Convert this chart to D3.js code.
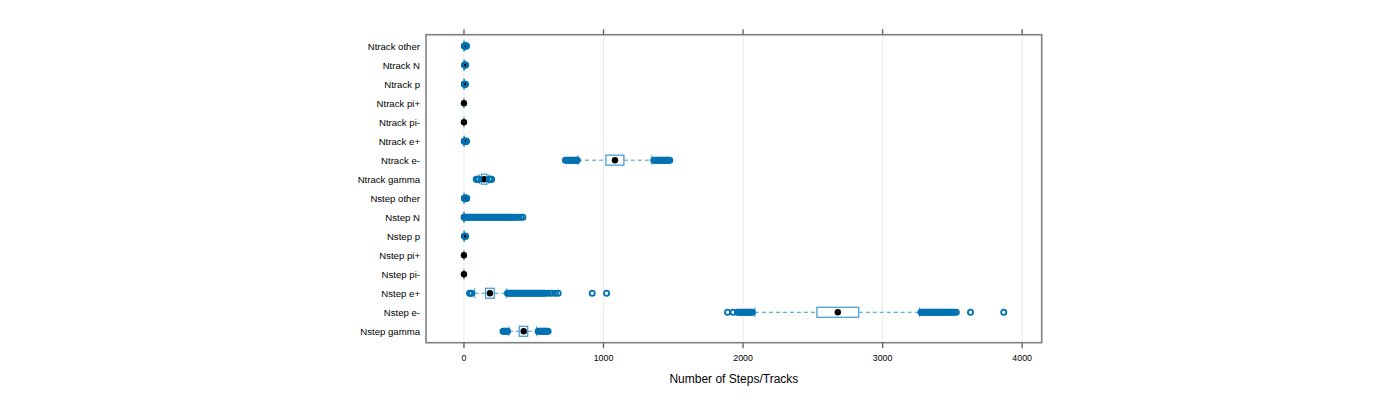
<!DOCTYPE html>
<html>
<head>
<meta charset="utf-8">
<script src="https://cdn.jsdelivr.net/npm/d3@7"></script>
<style>
  html, body { margin: 0; padding: 0; background: #ffffff; }
  svg { display: block; }
</style>
</head>
<body>
<svg id="chart" width="1400" height="400"></svg>
<script>
// ---------------- data ----------------
const categories = [
  "Ntrack other", "Ntrack N", "Ntrack p", "Ntrack pi+", "Ntrack pi-", "Ntrack e+",
  "Ntrack e-", "Ntrack gamma",
  "Nstep other", "Nstep N", "Nstep p", "Nstep pi+", "Nstep pi-", "Nstep e+",
  "Nstep e-", "Nstep gamma"
];
const lowerWhisker = [0, 0, 0, 0, 0, 0, 817, 110, 0, 0, 0, 0, 0, 77, 2085, 322];
const q1Values     = [1, 0, 0, 0, 0, 1, 1017, 125, 1, 0, 0, 0, 0, 155, 2529, 396];
const medianValues = [1, 3, 1, 0, 0, 1, 1082, 144, 1, 0, 2, 0, 0, 186, 2679, 428];
const q3Values     = [2, 4, 2, 0, 0, 2, 1146, 165, 2, 1, 3, 0, 0, 217, 2829, 457];
const upperWhisker = [3, 5, 3, 0, 0, 3, 1347, 178, 3, 2, 4, 0, 0, 306, 3266, 521];
const outlierValues = [
  [4, 6, 8, 10, 12, 14, 16, 18],
  [6, 9, 12],
  [5, 8, 11],
  [],
  [],
  [4, 6, 8, 10, 12, 14, 16, 18],
  [727, 737, 747, 757, 767, 777, 787, 797, 805, 812,
   1360, 1370, 1380, 1390, 1400, 1410, 1420, 1430, 1440, 1450, 1460, 1468, 1475],
  [88, 94, 100, 106, 182, 188, 194, 198],
  [4, 6, 8, 10, 12, 14, 16, 18, 20],
  [3, 12, 22, 32, 42, 52, 62, 72, 82, 92, 102, 112, 122, 132, 142, 152, 162, 172,
   182, 192, 202, 212, 222, 232, 242, 252, 262, 272, 282, 292, 302, 312, 322, 332,
   342, 352, 362, 378, 395, 410, 422],
  [6, 9, 12],
  [],
  [],
  [40, 48, 56,
   312, 322, 332, 342, 352, 362, 372, 382, 392, 402, 412, 422, 432, 442, 452, 462,
   472, 482, 492, 502, 512, 522, 532, 542, 552, 562, 572, 582, 605, 628, 655, 675,
   919, 1022],
  [1889, 1929, 1960, 1970, 1980, 1990, 2000, 2010, 2020, 2030, 2040, 2050, 2060, 2067,
   3275, 3285, 3295, 3305, 3315, 3325, 3335, 3345, 3355, 3365, 3375, 3385, 3395, 3405,
   3415, 3425, 3435, 3445, 3455, 3465, 3475, 3485, 3495, 3505, 3515, 3528, 3630, 3868],
  [280, 288, 296, 304, 312, 532, 540, 548, 556, 564, 572, 580, 588, 596, 603]
];
const xTicks = [0, 1000, 2000, 3000, 4000];
const xDomain = [-272, 4140];
const xTitle = "Number of Steps/Tracks";

// ---------------- layout ----------------
const frame = { left: 426, right: 1041.7, top: 34.7, bottom: 342.7 };
const svg = d3.select("#chart");
const font = "'Liberation Sans', Arial, Helvetica, sans-serif";

const x = d3.scaleLinear().domain(xDomain).range([frame.left, frame.right]);
const y = d3.scalePoint().domain(categories).range([frame.top, frame.bottom]).padding(0.6);

const boxColor = "#3d97d3";
const ptColor = "#0072B2";
const boxH = 10;

// grid lines
svg.append("g").selectAll("line").data(xTicks).join("line")
  .attr("x1", d => x(d)).attr("x2", d => x(d))
  .attr("y1", frame.top).attr("y2", frame.bottom)
  .attr("stroke", "#ebebeb").attr("stroke-width", 1);

// rows
const rows = categories.map((c, i) => ({
  cat: c, lw: lowerWhisker[i], q1: q1Values[i], med: medianValues[i],
  q3: q3Values[i], uw: upperWhisker[i], out: outlierValues[i]
}));

const g = svg.append("g");
rows.forEach(r => {
  const cy = y(r.cat);
  // whiskers (dashed)
  g.append("line").attr("x1", x(r.lw)).attr("x2", x(r.q1)).attr("y1", cy).attr("y2", cy)
    .attr("stroke", boxColor).attr("stroke-width", 1).attr("stroke-dasharray", "4,3");
  g.append("line").attr("x1", x(r.q3)).attr("x2", x(r.uw)).attr("y1", cy).attr("y2", cy)
    .attr("stroke", boxColor).attr("stroke-width", 1).attr("stroke-dasharray", "4,3");
  // umbrellas
  [r.lw, r.uw].forEach(v => {
    g.append("line").attr("x1", x(v)).attr("x2", x(v))
      .attr("y1", cy - boxH / 2).attr("y2", cy + boxH / 2)
      .attr("stroke", boxColor).attr("stroke-width", 1);
  });
  // box
  g.append("rect").attr("x", x(r.q1)).attr("y", cy - boxH / 2)
    .attr("width", Math.max(0, x(r.q3) - x(r.q1))).attr("height", boxH)
    .attr("fill", "#ffffff").attr("stroke", boxColor).attr("stroke-width", 1.2);
  // median dot
  g.append("circle").attr("cx", x(r.med)).attr("cy", cy).attr("r", 3.2).attr("fill", "#000");
});
// outliers on top
rows.forEach(r => {
  const cy = y(r.cat);
  g.append("g").selectAll("circle").data(r.out).join("circle")
    .attr("cx", d => x(d)).attr("cy", cy).attr("r", 2.6)
    .attr("fill", "none").attr("stroke", ptColor).attr("stroke-width", 1.8);
});

// frame
svg.append("rect").attr("x", frame.left).attr("y", frame.top)
  .attr("width", frame.right - frame.left).attr("height", frame.bottom - frame.top)
  .attr("fill", "none").attr("stroke", "#808080").attr("stroke-width", 1.6);

// top and bottom ticks
svg.append("g").selectAll("line").data(xTicks).join("line")
  .attr("x1", d => x(d)).attr("x2", d => x(d))
  .attr("y1", frame.top - 5.5).attr("y2", frame.top)
  .attr("stroke", "#666").attr("stroke-width", 1.4);
svg.append("g").selectAll("line").data(xTicks).join("line")
  .attr("x1", d => x(d)).attr("x2", d => x(d))
  .attr("y1", frame.bottom).attr("y2", frame.bottom + 5.5)
  .attr("stroke", "#666").attr("stroke-width", 1.4);

// x tick labels
svg.append("g").selectAll("text").data(xTicks).join("text")
  .attr("x", d => x(d)).attr("y", 361)
  .attr("text-anchor", "middle").attr("font-family", font).attr("font-size", 8.8)
  .attr("fill", "#000").text(d => d);

// y labels
svg.append("g").selectAll("text").data(categories).join("text")
  .attr("x", 420).attr("y", d => y(d) + 3.4)
  .attr("text-anchor", "end").attr("font-family", font).attr("font-size", 9.6)
  .attr("fill", "#000").text(d => d);

// x title
svg.append("text").attr("x", (frame.left + frame.right) / 2).attr("y", 382.5)
  .attr("text-anchor", "middle").attr("font-family", font).attr("font-size", 12)
  .attr("fill", "#000").text(xTitle);
</script>
</body>
</html>
